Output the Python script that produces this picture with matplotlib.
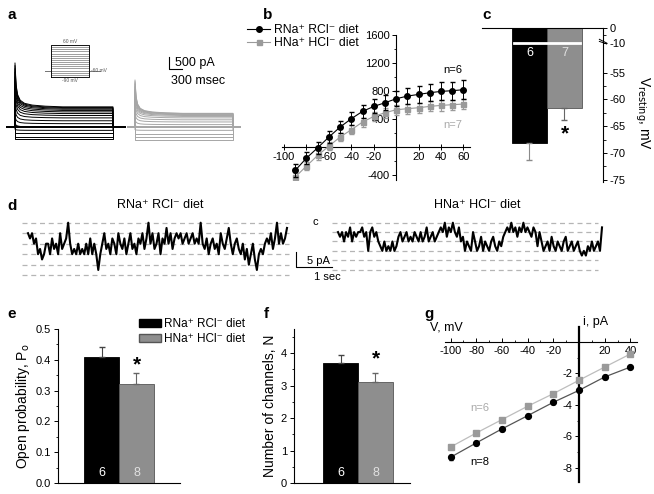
import numpy as np
import matplotlib
matplotlib.use('Agg')
import matplotlib.pyplot as plt
from matplotlib.patches import Patch
from matplotlib.lines import Line2D
from matplotlib.ticker import MultipleLocator, FixedLocator

plt.rcParams['font.family'] = ['Liberation Sans', 'DejaVu Sans']
plt.rcParams['axes.unicode_minus'] = False
plt.rcParams['axes.linewidth'] = 0.8

W, H = 654, 494
GRAY = '#9a9a9a'
BAR_GRAY = '#8e8e8e'
LBL_RNA = 'RNa\u207a RCl\u207b diet'
LBL_HNA = 'HNa\u207a HCl\u207b diet'

# ---- a: representative whole-cell traces (pA), one per voltage step
a_steps_mv = [-90, -80, -70, -60, -50, -40, -30, -20, -10, 0, 10, 20, 30, 40, 50, 60]
a_rna_steady = [-520, -400, -270, -140, 0, 140, 260, 380, 480, 560, 630, 690, 740, 780, 810, 840]
a_rna_peak = [0, 0, 0, 50, 150, 300, 500, 700, 900, 1100, 1250, 1400, 1550, 1650, 1750, 1830]
a_hna_steady = [-560, -420, -280, -140, -20, 100, 210, 300, 380, 440, 480, 510, 530, 550, 560, 570]
a_hna_peak = [0, 0, 0, 30, 100, 200, 350, 500, 650, 800, 950, 1050, 1150, 1250, 1330, 1390]
decay_t = [0, 25, 60, 120, 220, 400, 700, 1100]
decay_frac = [1, 0.5, 0.28, 0.15, 0.08, 0.04, 0.015, 0]
step_ms = 2260

# ---- b: I-V relation (mean +- sem)
b_v = [-90, -80, -70, -60, -50, -40, -30, -20, -10, 0, 10, 20, 30, 40, 50, 60]
b_rna = [-333, -157, -10, 143, 286, 405, 510, 580, 633, 690, 728, 752, 776, 795, 805, 819]
b_rna_err = [95, 90, 85, 85, 85, 90, 95, 100, 105, 110, 115, 120, 125, 130, 130, 135]
b_hna = [-428, -271, -119, 14, 143, 248, 357, 438, 490, 533, 548, 562, 581, 595, 605, 614]
b_hna_err = [60, 60, 60, 60, 60, 62, 64, 66, 68, 70, 70, 72, 72, 74, 74, 76]

# ---- c: resting potential
c_vals = [-68.1, -61.5]
c_err = [3.2, 2.4]
c_n = ['6', '7']

# ---- d: single-channel recordings, open levels per 2-px bin
d_rna_levels = [1, 1.5, 1, 2, 1.5, 3, 2.5, 3.5, 3, 2,
                2, 3, 1.5, 2.5, 2, 3, 1, 2.5, 2, 1.5, 0,
                2, 3, 2.5, 3, 2, 3, 2.5, 3, 2, 3, 1.5, 3, 2, 3, 4.5,
                3, 2, 1, 2.5, 2, 3, 1.5, 2, 3, 1, 2, 2.5, 1.5, 3, 2, 1, 2.5, 2, 3, 1.5,
                2, 1, 2.5, 1.5, 0, 2, 1, 2.5, 2, 1, 3, 1.5, 2, 0.5, 2, 1, 2.5, 1.5,
                1, 1.5, 1, 2, 1.5, 1, 2, 1.5, 1, 2, 1.5, 2,
                0, 2, 2.5, 1.5, 3, 2, 1.5, 2.5, 2, 3, 1, 2, 2.5, 1.5, 0.5, 2, 3, 2, 1.5, 2.5,
                3, 2, 3.5, 2.5, 4, 3, 2, 3.5, 4.5, 3, 2.5, 3, 2,
                1.5, 2, 1, 2.5, 1.5, 0, 2, 1, 2, 1.5, 0.5]
d_hna_levels = [1, 1.5, 1, 2, 1, 1.5, 0.5, 2, 1, 1.5, 1,
                1, 0.5, 1.5, 1, 3, 1, 0.5, 1.5, 1, 2,
                2.5, 3, 2, 3, 2.5, 3, 2, 3, 2.5, 1.5,
                1, 2, 1.5, 1, 2, 1.5, 2, 1, 1.5, 2, 1, 2, 1.5, 0.5, 2, 1.5, 1, 2, 1.5, 1,
                0.5, 1, 0, 1.5, 0.5, 1, 0, 1, 1.5, 0.5,
                2, 1.5, 3, 2, 2.5, 3, 1, 2, 3, 2.5, 1.5, 3, 2, 2.5, 3, 2, 1.5, 2.5, 3, 2, 2.5, 1.5,
                1, 0.5, 1, 0, 1, 0.5, 1.5, 0.5, 1, 0, 1, 0.5, 1, 1.5, 0.5, 1, 2.5, 1,
                2, 3, 2.5, 2, 3, 1.5, 2.5, 3, 2, 2.5, 3, 2, 1.5, 3, 2.5, 2, 3, 2.5, 2, 3,
                3.5, 3, 3.5, 2.5, 3, 2, 3, 2.5, 2, 3, 0.5]
d_unit_pa = [3.5, 3.13]

# ---- e, f: open probability and channel number
e_po = [0.41, 0.32]
e_err = [0.033, 0.038]
e_n = ['6', '8']
f_n_ch = [3.69, 3.10]
f_err = [0.24, 0.30]
f_n = ['6', '8']

# ---- g: single-channel i-V
g_v = [-100, -80, -60, -40, -20, 0, 20, 40]
g_rna = [-7.32, -6.41, -5.52, -4.68, -3.83, -3.07, -2.22, -1.59]
g_hna = [-6.67, -5.78, -4.93, -4.08, -3.28, -2.43, -1.59, -0.76]
g_err = [0.15, 0.13, 0.12, 0.11, 0.10, 0.12, 0.10, 0.09]


def box(x0, y0, x1, y1):
    return [x0 / W, 1 - y1 / H, (x1 - x0) / W, (y1 - y0) / H]


def fx(px):
    return px / W


def fy(py):
    return 1 - py / H


fig = plt.figure(figsize=(6.54, 4.94), dpi=100)
fig.patch.set_facecolor('white')

for lab, x, y in [('a', 7, 19), ('b', 263, 19), ('c', 482, 19), ('d', 7, 210),
                  ('e', 7, 318), ('f', 264, 318), ('g', 424, 318)]:
    fig.text(fx(x), fy(y), lab, fontsize=11, fontweight='bold', ha='left', va='baseline')

# ================= a =================
ms_px = 300 / 13
pa_px = 500 / 12
ax = fig.add_axes(box(0, 30, 250, 160))
ax.set_xlim(-15 * ms_px, 235 * ms_px)
ax.set_ylim(-33 * pa_px, 97 * pa_px)
ax.axis('off')
for steady, peak, color, t0, hold in [(a_rna_steady, a_rna_peak, 'black', 0, (-185, 2540)),
                                      (a_hna_steady, a_hna_peak, '#a6a6a6', 120 * ms_px, (-160, 2420))]:
    for s, p in zip(steady, peak):
        t = [hold[0], 0] + decay_t + [step_ms, step_ms, hold[1]]
        i = [0, 0] + [s + p * f for f in decay_frac] + [s, 0, 0]
        ax.plot(np.array(t) + t0, i, color=color, lw=0.7)
    ax.plot(np.array(hold) + t0, [0, 0], color=color, lw=1.4)
sb_t, sb_i = 3554, 2417
ax.plot([sb_t, sb_t, sb_t + 300], [sb_i + 500, sb_i, sb_i], color='black', lw=0.8)
ax.text(sb_t + 130, sb_i + 270, '500 pA', fontsize=9, va='center', ha='left')
ax.text(sb_t + 40, sb_i - 500, '300 msec', fontsize=9, va='center', ha='left')

axi = fig.add_axes(box(40, 38, 110, 88))
axi.set_xlim(-275, 1475)
axi.set_ylim(-141.6, 92.8)
axi.axis('off')
for v in a_steps_mv:
    axi.plot([-150, 0, 0, 950, 950, 1225], [-60, -60, v, v, -60, -60], color='#777777', lw=0.5)
axi.plot([0, 0, 950, 950, 0], [-90, 60, 60, -90, -90], color='black', lw=0.6)
axi.text(475, 66, '60 mV', fontsize=3.5, ha='center', va='bottom', color='#555555')
axi.text(1000, -60, '-60 mV', fontsize=3.5, ha='left', va='center', color='#555555')
axi.text(475, -97, '-90 mV', fontsize=3.5, ha='center', va='top', color='#555555')

# ================= b =================
ax = fig.add_axes(box(282, 35, 470, 180))
ax.set_xlim(-101.8, 65.8)
ax.set_ylim(-470, 1600)
for sp in ['top', 'right']:
    ax.spines[sp].set_visible(False)
ax.spines['left'].set_position(('data', 0))
ax.spines['bottom'].set_position(('data', 0))
ax.set_xticks([-100, -80, -60, -40, -20, 0, 20, 40, 60])
ax.set_xticklabels(['-100', '', '-60', '-40', '-20', '', '20', '40', '60'])
ax.set_yticks([-400, 0, 400, 800, 1200, 1600])
ax.set_yticklabels(['-400', '', '400', '800', '1200', '1600'])
ax.yaxis.set_minor_locator(MultipleLocator(200))
ax.tick_params(axis='both', labelsize=8, length=3, width=0.7, pad=1.5)
ax.tick_params(axis='y', which='minor', length=1.8, width=0.6)
ax.tick_params(axis='x', direction='inout', length=4)
ax.errorbar(b_v, b_rna, yerr=b_rna_err, color='black', lw=0.8, marker='o', ms=4,
            capsize=1.8, elinewidth=0.7, zorder=4, label=LBL_RNA)
ax.errorbar(b_v, b_hna, yerr=b_hna_err, color=GRAY, lw=0.8, marker='s', ms=3.6,
            capsize=1.8, elinewidth=0.7, zorder=3, label=LBL_HNA)
ax.text(50.7, 1100, 'n=6', fontsize=8, ha='center', va='center', color='black')
ax.text(50.7, 314, 'n=7', fontsize=8, ha='center', va='center', color='#aaaaaa')
handles = [Line2D([], [], color='black', marker='o', ms=4, lw=0.8),
           Line2D([], [], color=GRAY, marker='s', ms=3.6, lw=0.8)]
fig.legend(handles, [LBL_RNA, LBL_HNA], loc='upper left', bbox_to_anchor=(fx(247), fy(24)),
           frameon=False, fontsize=8.8, handlelength=1.9, handletextpad=0.3,
           labelspacing=0.1, borderpad=0, borderaxespad=0)

# ================= c =================
def c_fwd(v):
    v = np.asarray(v, dtype=float)
    return np.where(v >= -10, 1.5 * v,
                    np.where(v >= -55, -15 + (v + 10) * 30 / 45, -45 + (v + 55) * 5.4))


def c_inv(p):
    p = np.asarray(p, dtype=float)
    return np.where(p >= -15, p / 1.5,
                    np.where(p >= -45, -10 + (p + 15) * 45 / 30, -55 + (p + 45) / 5.4))


ax = fig.add_axes(box(482, 28, 603, 182))
ax.set_yscale('function', functions=(c_fwd, c_inv))
ax.set_ylim(-75.4, 0)
ax.set_xlim(-1.357, 2.1)
ax.bar([0, 1], c_vals, width=1.0, color=['black', BAR_GRAY], edgecolor=['black', '#555555'], lw=0.6)
for i, ec in enumerate(['#8a8a8a', '#666666']):
    ax.errorbar([i], [c_vals[i]], yerr=[[c_err[i]], [0]], fmt='none', ecolor=ec,
                elinewidth=0.8, capsize=2.5)
ax.plot([-0.45, 1.45], [-10, -10], color='white', lw=2)
for i, n in enumerate(c_n):
    ax.text(i, -25, n, color='white' if i == 0 else '#e0e0e0', fontsize=9, ha='center', va='center')
ax.text(1, -66.5, '*', fontsize=15, ha='center', va='center', fontweight='bold')
for sp in ['left', 'bottom']:
    ax.spines[sp].set_visible(False)
ax.yaxis.tick_right()
ax.yaxis.set_label_position('right')
ax.set_xticks([])
ax.yaxis.set_major_locator(FixedLocator([0, -10, -55, -60, -65, -70, -75]))
ax.yaxis.set_minor_locator(FixedLocator([-5, -57.5, -62.5, -67.5, -72.5]))
ax.yaxis.set_major_formatter(matplotlib.ticker.FuncFormatter(lambda v, p: '%d' % round(v)))
ax.tick_params(axis='y', labelsize=8, length=3, width=0.7, pad=2)
ax.tick_params(axis='y', which='minor', length=1.8, width=0.6)
ax.plot([0.97, 1.03], [-9.0, -11.6], transform=ax.get_yaxis_transform(), color='black', lw=0.7, clip_on=False)
ax.plot([0.97, 1.03], [-7.6, -10.2], transform=ax.get_yaxis_transform(), color='black', lw=0.7, clip_on=False)
ax.set_ylabel(r'V$_{\mathrm{resting}}$, mV', fontsize=10, rotation=270, va='center')
ax.yaxis.set_label_coords(1.325, 0.45)

# ================= d =================
s_px = 1 / 36
p_px = 1 / 3
ax = fig.add_axes(box(0, 215, 654, 285))
ax.set_xlim(0, W * s_px)
ax.set_ylim(-(285 - 222.7) * p_px, (222.7 - 215) * p_px)
ax.axis('off')
for levels, unit, t0, t1, dash_end in [(d_rna_levels, d_unit_pa[0], 28 * s_px, 287 * s_px, 289 * s_px),
                                       (d_hna_levels, d_unit_pa[1], 338 * s_px, 602 * s_px, 598 * s_px)]:
    for k in range(6):
        ax.plot([t0 - 6 * s_px, dash_end], [-k * unit, -k * unit], color='#b5b5b5', lw=0.9,
                dashes=(4, 3), zorder=1)
    lv = np.array(levels, dtype=float)
    t = np.linspace(t0, t1, len(lv))
    ax.plot(t, -lv * unit, color='black', lw=1.5, zorder=3)
sb_x, sb_y = 296 * s_px, -(267 - 222.7) * p_px
ax.plot([sb_x, sb_x, sb_x + 1], [sb_y + 5, sb_y, sb_y], color='black', lw=0.8)
ax.text(sb_x + 0.3, sb_y + 2, '5 pA', fontsize=8, va='center', ha='left')
ax.text(sb_x + 0.5, sb_y - 3.4, '1 sec', fontsize=8, va='center', ha='left')
ax.text(315 * s_px, 0.3, 'c', fontsize=8, ha='center', va='center')
fig.text(fx(160), fy(205), LBL_RNA, fontsize=9, ha='center', va='center')
fig.text(fx(477), fy(205), LBL_HNA, fontsize=9, ha='center', va='center')

# ================= e, f =================
def bar_panel(rect, vals, errs, ns, xlim, ylim, major, minor, ylabel, star_y):
    ax = fig.add_axes(box(*rect))
    ax.bar([0, 1], vals, width=1.0, color=['black', BAR_GRAY], edgecolor=['black', '#555555'], lw=0.6)
    for i, ec in enumerate(['#444444', '#666666']):
        ax.errorbar([i], [vals[i]], yerr=[[0], [errs[i]]], fmt='none', ecolor=ec,
                    elinewidth=0.8, capsize=2.5)
    ax.set_xlim(*xlim)
    ax.set_ylim(*ylim)
    for sp in ['top', 'right']:
        ax.spines[sp].set_visible(False)
    ax.set_xticks([])
    ax.yaxis.set_major_locator(MultipleLocator(major))
    ax.yaxis.set_minor_locator(MultipleLocator(minor))
    ax.tick_params(axis='y', labelsize=8, length=3, width=0.7, pad=2)
    ax.tick_params(axis='y', which='minor', length=1.8, width=0.6)
    ax.set_ylabel(ylabel, fontsize=10, labelpad=3)
    span = ylim[1] - ylim[0]
    for i, n in enumerate(ns):
        ax.text(i, ylim[0] + span * 0.065, n, color='white' if i == 0 else '#e0e0e0',
                fontsize=9, ha='center', va='center')
    ax.text(1, star_y, '*', fontsize=15, ha='center', va='center', fontweight='bold')
    return ax


ax = bar_panel((58, 329, 180, 483), e_po, e_err, e_n, (-1.243, 2.243), (0, 0.5), 0.1, 0.05,
               'Open probability, P$_{\\mathrm{o}}$', 0.385)
ax.yaxis.set_major_formatter(matplotlib.ticker.FormatStrFormatter('%.1f'))
fig.legend([Patch(facecolor='black', edgecolor='black'), Patch(facecolor=BAR_GRAY, edgecolor='#555555')],
           [LBL_RNA, LBL_HNA], loc='upper left', bbox_to_anchor=(fx(139), fy(318)), frameon=False,
           fontsize=8.5, handlelength=1.85, handleheight=0.7, handletextpad=0.3, labelspacing=0.25,
           borderpad=0, borderaxespad=0)

bar_panel((294, 329, 410, 483), f_n_ch, f_err, f_n, (-1.329, 1.986), (0, 4.74), 1, 0.5,
          'Number of channels, N', 3.82)

# ================= g =================
ax = fig.add_axes(box(445, 327, 637, 482))
ax.set_xlim(-104.3, 45.1)
ax.set_ylim(-8.89, 0.95)
for sp in ['top', 'right']:
    ax.spines[sp].set_visible(False)
ax.spines['left'].set_position(('data', 0))
ax.spines['bottom'].set_position(('data', 0))
ax.spines['left'].set_linewidth(1.6)
ax.set_xticks([-100, -80, -60, -40, -20, 0, 20, 40])
ax.set_xticklabels(['-100', '-80', '-60', '-40', '-20', '', '20', '40'])
ax.xaxis.set_minor_locator(MultipleLocator(10))
ax.set_yticks([-8, -6, -4, -2])
ax.yaxis.set_minor_locator(MultipleLocator(1))
ax.tick_params(axis='both', labelsize=8, length=3, width=0.7, pad=2)
ax.tick_params(axis='x', direction='in', pad=3)
ax.tick_params(axis='x', which='minor', direction='in', length=1.8, width=0.6)
ax.tick_params(axis='y', which='minor', length=1.8, width=0.6)
ax.errorbar(g_v, g_hna, yerr=g_err, color='#bdbdbd', mfc=GRAY, mec=GRAY, marker='s', ms=4,
            lw=0.9, elinewidth=0.7, ecolor=GRAY, capsize=1.5, zorder=3, clip_on=False)
ax.errorbar(g_v, g_rna, yerr=g_err, color='#555555', mfc='black', mec='black', marker='o', ms=4.2,
            lw=0.9, elinewidth=0.7, ecolor='black', capsize=1.5, zorder=4, clip_on=False)
ax.text(-77, -4.19, 'n=6', fontsize=8, color='#aaaaaa', ha='center', va='center')
ax.text(-77, -7.62, 'n=8', fontsize=8, color='black', ha='center', va='center')
fig.text(fx(430), fy(327), 'V, mV', fontsize=9, ha='left', va='center')
fig.text(fx(583), fy(322), 'i, pA', fontsize=9, ha='left', va='center')

fig.savefig('out.png', dpi=100, facecolor='white')
